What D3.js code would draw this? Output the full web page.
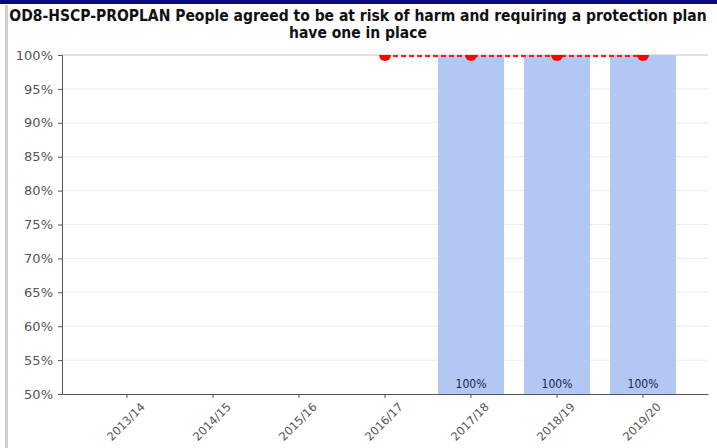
<!DOCTYPE html>
<html>
<head>
<meta charset="utf-8">
<script src="https://cdn.jsdelivr.net/npm/d3@7"></script>
<style>
  html, body { margin: 0; padding: 0; background: #fff; }
  svg { display: block; }
</style>
</head>
<body>
<svg id="chart" width="717" height="448"></svg>
<script>
// Financial years on the x axis
const years = ["2013/14", "2014/15", "2015/16", "2016/17", "2017/18", "2018/19", "2019/20"];
// Bar values (percent); null where there is no figure for that year
const barValues = [null, null, null, null, 100, 100, 100];
// Target line values (percent)
const targetValues = [null, null, null, 100, 100, 100, 100];
// Y axis ticks (percent)
const yTicks = [50, 55, 60, 65, 70, 75, 80, 85, 90, 95, 100];

const titleLines = [
  "OD8-HSCP-PROPLAN People agreed to be at risk of harm and requiring a protection plan",
  "have one in place"
];

const svg = d3.select("#chart");
const W = 717, H = 448;
const plot = { left: 62, right: 708, top: 55, bottom: 394 };
const labelFont = "'DejaVu Sans', Verdana, sans-serif";

// Frame: navy strip along the top, grey rule down the left side
svg.append("rect").attr("x", 0).attr("y", 0).attr("width", W).attr("height", 4).attr("fill", "#0a0a80");
svg.append("rect").attr("x", 5).attr("y", 5).attr("width", 3).attr("height", H - 5).attr("fill", "#cfcfcf");

// Title
svg.append("g").selectAll("text").data(titleLines).join("text")
  .attr("x", 358)
  .attr("y", (d, i) => 21 + i * 17)
  .attr("text-anchor", "middle")
  .attr("font-family", "'DejaVu Sans Condensed', 'DejaVu Sans', sans-serif")
  .attr("font-weight", "bold")
  .attr("font-size", 15.5)
  .attr("fill", "#111")
  .text(d => d);

const x = d3.scaleBand().domain(years)
  .range([plot.left, plot.right])
  .paddingInner(0.233).paddingOuter(0.372);
const y = d3.scaleLinear().domain([50, 100]).range([plot.bottom, plot.top]);

// Gridlines
svg.append("g").selectAll("line").data(yTicks.filter(t => t > 50)).join("line")
  .attr("x1", plot.left).attr("x2", plot.right)
  .attr("y1", d => y(d)).attr("y2", d => y(d))
  .attr("stroke", d => d === 100 ? "#c8c8c8" : "#ededed")
  .attr("stroke-width", 1);

// Bars
const bars = years.map((yr, i) => ({ yr, v: barValues[i] })).filter(d => d.v !== null);
svg.append("g").selectAll("rect").data(bars).join("rect")
  .attr("x", d => x(d.yr))
  .attr("y", d => y(d.v))
  .attr("width", x.bandwidth())
  .attr("height", d => y(50) - y(d.v))
  .attr("fill", "#b3c7f3");

// Bar value labels along the bottom of each bar
svg.append("g").selectAll("text").data(bars).join("text")
  .attr("x", d => x(d.yr) + x.bandwidth() / 2)
  .attr("y", plot.bottom - 6)
  .attr("text-anchor", "middle")
  .attr("font-family", "'DejaVu Sans Condensed', 'DejaVu Sans', sans-serif")
  .attr("font-size", 12)
  .attr("fill", "#1c2250")
  .text(d => d.v + "%");

// Target line and markers, markers clipped to the plot area
svg.append("defs").append("clipPath").attr("id", "plotClip")
  .append("rect").attr("x", plot.left).attr("y", plot.top)
  .attr("width", plot.right - plot.left).attr("height", plot.bottom - plot.top);

const targets = years.map((yr, i) => ({ yr, v: targetValues[i] })).filter(d => d.v !== null);
const cx = d => x(d.yr) + x.bandwidth() / 2;
svg.append("path")
  .datum(targets)
  .attr("d", d3.line().x(cx).y(d => y(d.v) + 1))
  .attr("fill", "none")
  .attr("stroke", "#ff1a1a")
  .attr("stroke-width", 2)
  .attr("stroke-dasharray", "5,3");
svg.append("g").attr("clip-path", "url(#plotClip)")
  .selectAll("circle").data(targets).join("circle")
  .attr("cx", cx).attr("cy", d => y(d.v)).attr("r", 6)
  .attr("fill", "#ff0000");

// Y axis
const yAxis = svg.append("g").attr("transform", `translate(${plot.left},0)`)
  .call(d3.axisLeft(y).tickValues(yTicks).tickFormat(d => d + "%").tickSize(4).tickPadding(5));
yAxis.select(".domain").attr("stroke", "#555");
yAxis.selectAll(".tick line").attr("stroke", "#555");
yAxis.selectAll("text")
  .attr("font-family", labelFont)
  .attr("font-size", 13).attr("fill", "#555");

// X axis
const xAxis = svg.append("g").attr("transform", `translate(0,${plot.bottom})`)
  .call(d3.axisBottom(x).tickSize(4).tickSizeOuter(0));
xAxis.select(".domain").attr("stroke", "#555");
xAxis.selectAll(".tick line").attr("stroke", "#555");
xAxis.selectAll("text")
  .attr("font-family", labelFont)
  .attr("font-size", 11.5).attr("fill", "#555")
  .attr("text-anchor", "end")
  .attr("transform", "translate(8,3) rotate(-45)")
  .attr("dy", "0.7em").attr("dx", "0");
</script>
</body>
</html>
